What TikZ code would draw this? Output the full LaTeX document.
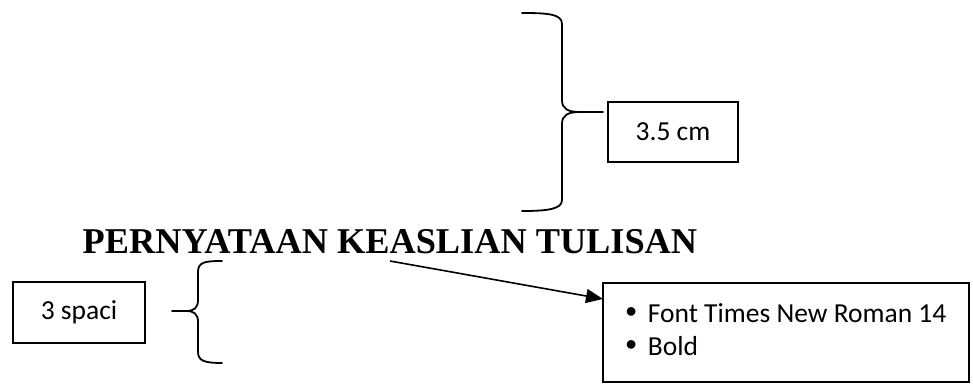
\documentclass[tikz,border=0pt]{standalone}
\usepackage{fontspec}
\setmainfont{Carlito}
\newfontfamily\titlefont{Liberation Serif}
\newfontfamily\bulfont{Liberation Sans}
\usetikzlibrary{arrows.meta}
\newcommand{\blt}{{\bulfont\fontsize{32}{33}\selectfont •}}
\begin{document}
\begin{tikzpicture}[x=1pt,y=-1pt,
  box/.style={draw, line width=1.6pt, inner sep=0pt, font=\fontsize{27.5}{33}\selectfont},
  brc/.style={line width=1.8pt, line cap=round},
  arr/.style={line width=1.6pt, -{Triangle[length=17pt,width=14pt]}},
  ttl/.style={font=\titlefont\bfseries\fontsize{36.3}{40}\selectfont, anchor=base, inner sep=0pt}]
\useasboundingbox (0,0) rectangle (973,385);
% boxes
\node[box, minimum width=130pt, minimum height=60pt] (cm) at (673,132) {3.5 cm};
\node[box, minimum width=132pt, minimum height=61pt] (sp) at (79,312.5) {3 spaci};
\node[box, minimum width=366pt, minimum height=99pt, align=left] (bul) at (786,332.5)
  {\begin{tabular}{@{}l@{\hspace{11pt}}l@{}}\blt & Font Times New Roman 14\\ \blt & Bold\end{tabular}};
% title
\node[ttl] (title) at (390,253) {PERNYATAAN KEASLIAN TULISAN};
% top brace
\coordinate (tb) at (580,112);
\coordinate (tt) at (603,112);
\draw[brc] (522,13) .. controls (548,13) and (562,14) .. (562,24) -- (562,100)
  .. controls (562,109) and (568,112) .. (tb)
  .. controls (568,112) and (562,115) .. (562,124) -- (562,200)
  .. controls (562,209) and (548,211) .. (522,211);
\draw[brc] (tb) -- (tt);
% left brace
\coordinate (lb) at (186,311);
\coordinate (lt) at (172,311);
\draw[brc] (222,261) .. controls (205,261) and (198,262) .. (198,272) -- (198,300)
  .. controls (198,308) and (194,311) .. (lb)
  .. controls (194,311) and (198,314) .. (198,322) -- (198,352)
  .. controls (198,361) and (205,363) .. (222,363);
\draw[brc] (lb) -- (lt);
% arrow
\coordinate (as) at (390,261);
\coordinate (ae) at (603,299);
\draw[arr] (as) -- (ae);
\end{tikzpicture}
\end{document}
